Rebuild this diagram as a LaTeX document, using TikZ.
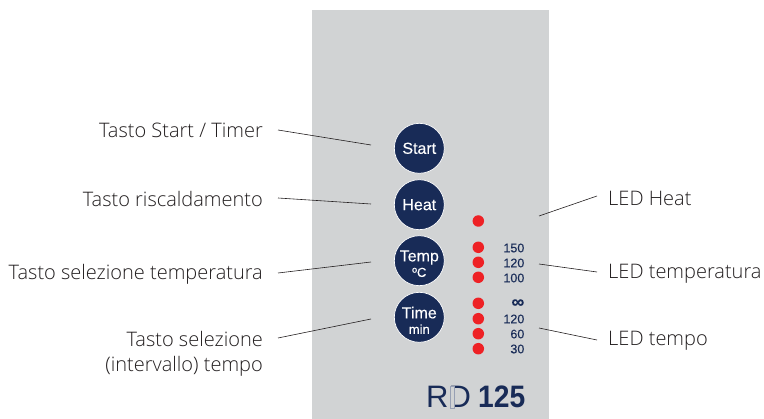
\documentclass[tikz,border=0pt]{standalone}
\usepackage{fontspec}
\setmainfont{Open Sans}[UprightFont={* Light},BoldFont={*}]
\newfontfamily\hel[FakeBold=0.15]{Liberation Sans}
\newfontfamily\helr{Liberation Sans}
\newfontfamily\helc[FakeStretch=0.91]{Liberation Sans}
\definecolor{panel}{HTML}{D1D3D4}
\definecolor{navy}{HTML}{182B57}
\definecolor{ledred}{HTML}{EE2125}
\definecolor{ink}{HTML}{231F20}
\tikzset{
  btn/.style={circle,draw=white,line width=0.7pt,fill=navy,minimum size=50pt,inner sep=0pt},
  btntext/.style={inner sep=0pt,text=white,align=center,font=\hel\fontsize{16}{16}\selectfont},
  led/.style={circle,fill=ledred,minimum size=11.5pt,inner sep=0pt},
  val/.style={anchor=east,inner sep=0pt,text=navy,font=\hel\fontsize{12.5}{12.5}\selectfont},
  lab/.style={inner sep=0pt,text=ink,font=\fontsize{20}{26}\selectfont},
  leader/.style={draw=ink,line width=0.6pt},
}
\begin{document}
\begin{tikzpicture}[x=1pt,y=-1pt]
\useasboundingbox (0,0) rectangle (764,419);
\fill[panel] (312,10) rectangle (549,419);
\node[btn] (start) at (419.3,148.3) {};
\node[btn] (heat) at (419.3,204.7) {};
\node[btn] (temp) at (419.3,260.7) {};
\node[btn] (time) at (419.3,317.3) {};
\node[btntext] (startt) at (start) {Start};
\node[btntext] (heatt) at (heat) {Heat};
\node[btntext] (tempt) at ([yshift=-3pt]temp) {Temp\\[-0.5pt]{\fontsize{13}{13}\selectfont ºC}};
\node[btntext] (timet) at ([yshift=-3pt]time) {Time\\[-0.5pt]{\fontsize{13}{13}\selectfont min}};
\node[led] (l0) at (478.3,221) {};
\node[led] (l1) at (478.3,247.3) {};
\node[led] (l2) at (478.3,262.3) {};
\node[led] (l3) at (478.3,277.3) {};
\node[led] (l4) at (478.3,303.3) {};
\node[led] (l5) at (478.3,318.7) {};
\node[led] (l6) at (478.3,333.7) {};
\node[led] (l7) at (478.3,348.7) {};
\node[val] (v1) at (524.5,248) {150};
\node[val] (v2) at (524.5,263) {120};
\node[val] (v3) at (524.5,278) {100};
\node[val,font=\hel\bfseries\fontsize{18}{18}\selectfont] (v4) at (524.5,303.5) {∞};
\node[val] (v5) at (524.5,319) {120};
\node[val] (v6) at (524.5,334) {60};
\node[val] (v7) at (524.5,349) {30};
\node[anchor=base west,inner sep=0pt,text=navy,font=\helr\fontsize{31}{31}\selectfont] (rd) at (426,408) {RD};
\node[anchor=base east,inner sep=0pt,text=navy,font=\helc\bfseries\fontsize{31}{31}\selectfont] (model) at (525.5,408) {125};
\draw[navy!45,fill=panel,line width=0.4pt] (450.5,386) rectangle (454.5,408);
\node[lab,anchor=base east] (a) at (263,137.5) {Tasto Start / Timer};
\node[lab,anchor=base east] (b) at (263,206.5) {Tasto riscaldamento};
\node[lab,anchor=base east] (c) at (263,279.5) {Tasto selezione temperatura};
\node[lab,anchor=base east] (d) at (263,346.5) {Tasto selezione};
\node[lab,anchor=base east] (d2t) at (263,371.7) {(intervallo) tempo};
\node[lab,anchor=base west] (e) at (608,206) {LED Heat};
\node[lab,anchor=base west] (f) at (608,279) {LED temperatura};
\node[lab,anchor=base west] (g) at (608,346) {LED tempo};
\coordinate (a1) at (278,130); \coordinate (a2) at (371,145);
\coordinate (b1) at (278,198); \coordinate (b2) at (371,204);
\coordinate (c1) at (278,273); \coordinate (c2) at (371,262);
\coordinate (d1) at (278,338); \coordinate (d2) at (371,319);
\coordinate (e1) at (597,196); \coordinate (e2) at (539,216);
\coordinate (f1) at (597,272); \coordinate (f2) at (539,264);
\coordinate (g1) at (597,340); \coordinate (g2) at (539,328);
\foreach \p in {a,b,c,d,e,f,g}{\draw[leader] (\p1) -- (\p2);}
\end{tikzpicture}
\end{document}
